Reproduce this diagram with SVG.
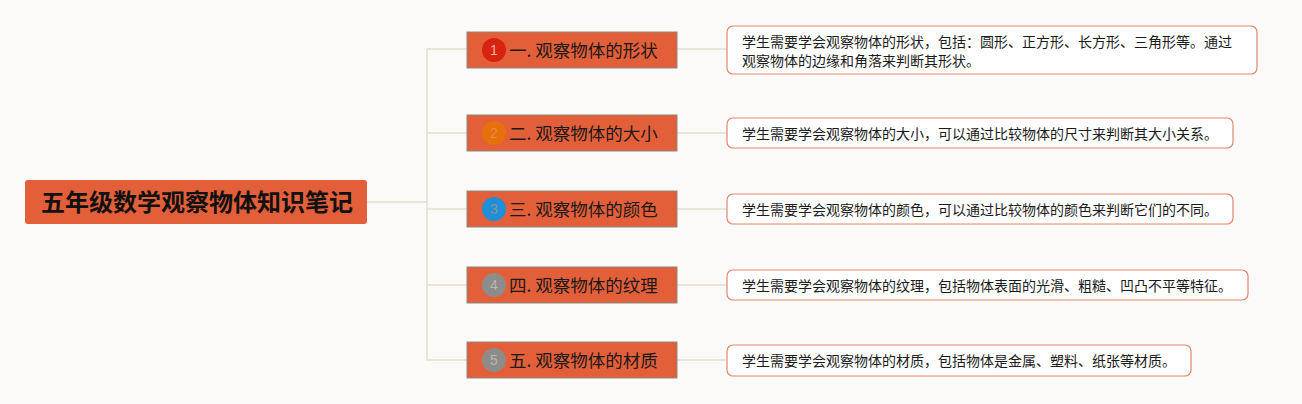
<svg xmlns="http://www.w3.org/2000/svg" width="1302" height="404" viewBox="0 0 1302 404">
<style>
.bg{fill:#fbfaf9}
.root{fill:#e35f39}
.rt{font-family:"Noto Sans CJK SC","Noto Sans",sans-serif;font-size:24px;font-weight:bold;fill:#111}
.br{fill:#e35f39;stroke:#8c8a7e;stroke-width:1}
.bt{font-family:"Noto Sans CJK SC","Noto Sans",sans-serif;font-size:17.5px;fill:#1a1a1a}
.leaf{fill:#ffffff;stroke:#e2876c;stroke-width:1.2}
.lt{font-family:"Noto Sans CJK SC","Noto Sans",sans-serif;font-size:14px;fill:#1a1a1a}
.num{font-family:"Liberation Sans",sans-serif;font-size:14px;text-anchor:middle}
.ln{fill:none;stroke:#e9ddcd;stroke-width:1.5}
</style>
<rect class="bg" width="1302" height="404"/>
<g id="connectors">
<path class="ln" d="M367 202 H427 M427 49 V360 M427 49 H467 M427 133 H467 M427 209 H467 M427 285 H467 M427 360 H467"/>
<path class="ln" d="M677 49 H727 M677 133 H727 M677 209 H727 M677 285 H727 M677 360 H727"/>
</g>
<g id="root">
<rect class="root" x="25" y="180" width="342" height="44" rx="3"/>
<text class="rt" x="197" y="211" text-anchor="middle">五年级数学观察物体知识笔记</text>
</g>
<g id="b1">
<rect class="br" x="467" y="32" width="210" height="36"/>
<circle cx="494" cy="50" r="12" fill="#d8230e"/>
<text class="num" x="494" y="55" fill="#f3b0a0">1</text>
<text class="bt" x="509" y="57">一. 观察物体的形状</text>
</g>
<g id="b2">
<rect class="br" x="467" y="115" width="210" height="36"/>
<circle cx="494" cy="133" r="12" fill="#e8700c"/>
<text class="num" x="494" y="138" fill="#ec8a3a">2</text>
<text class="bt" x="509" y="140">二. 观察物体的大小</text>
</g>
<g id="b3">
<rect class="br" x="467" y="191" width="210" height="36"/>
<circle cx="494" cy="209" r="12" fill="#1f8fd8"/>
<text class="num" x="494" y="214" fill="#8a8f9a">3</text>
<text class="bt" x="509" y="216">三. 观察物体的颜色</text>
</g>
<g id="b4">
<rect class="br" x="467" y="267" width="210" height="36"/>
<circle cx="494" cy="285" r="12" fill="#8e8c8a"/>
<text class="num" x="494" y="290" fill="#b9b6b2">4</text>
<text class="bt" x="509" y="292">四. 观察物体的纹理</text>
</g>
<g id="b5">
<rect class="br" x="467" y="342" width="210" height="36"/>
<circle cx="494" cy="360" r="12" fill="#8e8c8a"/>
<text class="num" x="494" y="365" fill="#b9b6b2">5</text>
<text class="bt" x="509" y="367">五. 观察物体的材质</text>
</g>
<g id="l1">
<rect class="leaf" x="727" y="26" width="530" height="48" rx="6"/>
<text class="lt" x="742" y="47">学生需要学会观察物体的形状，包括：圆形、正方形、长方形、三角形等。通过</text>
<text class="lt" x="742" y="66">观察物体的边缘和角落来判断其形状。</text>
</g>
<g id="l2">
<rect class="leaf" x="727" y="118" width="506" height="30" rx="6"/>
<text class="lt" x="742" y="138.5">学生需要学会观察物体的大小，可以通过比较物体的尺寸来判断其大小关系。</text>
</g>
<g id="l3">
<rect class="leaf" x="727" y="194" width="506" height="30" rx="6"/>
<text class="lt" x="742" y="214.5">学生需要学会观察物体的颜色，可以通过比较物体的颜色来判断它们的不同。</text>
</g>
<g id="l4">
<rect class="leaf" x="727" y="270" width="521" height="30" rx="6"/>
<text class="lt" x="742" y="290.5">学生需要学会观察物体的纹理，包括物体表面的光滑、粗糙、凹凸不平等特征。</text>
</g>
<g id="l5">
<rect class="leaf" x="727" y="345" width="464" height="31" rx="6"/>
<text class="lt" x="742" y="365.5">学生需要学会观察物体的材质，包括物体是金属、塑料、纸张等材质。</text>
</g>
</svg>
